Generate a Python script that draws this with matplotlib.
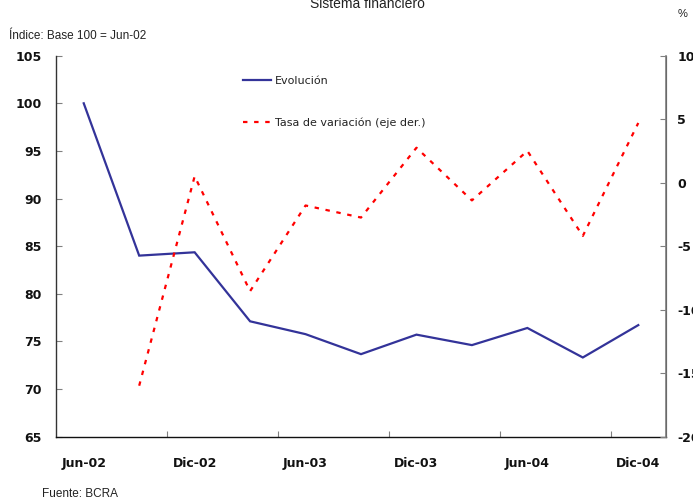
import matplotlib
matplotlib.use("Agg")
import matplotlib.pyplot as plt
import numpy as np

plt.rcParams["axes.unicode_minus"] = False

# Quarterly series, Jun-02 .. Dec-04
quarters = ["Jun-02", "Sep-02", "Dic-02", "Mar-03", "Jun-03", "Sep-03",
            "Dic-03", "Mar-04", "Jun-04", "Sep-04", "Dic-04"]
evolucion = [100.0, 84.0, 84.35, 77.1, 75.75, 73.65, 75.7, 74.6, 76.4, 73.3, 76.7]
tasa_variacion = [np.nan, -16.0, 0.5, -8.55, -1.8, -2.75, 2.75, -1.4, 2.5, -4.2, 4.7]

left_ticks = [65, 70, 75, 80, 85, 90, 95, 100, 105]
right_ticks = [-20, -15, -10, -5, 0, 5, 10]

BLUE = "#333399"
RED = "#ff0000"
AXIS_GRAY = "#808080"
TEXT = "#222222"
NOTE_FONT = ["Liberation Sans", "DejaVu Sans"]

fig = plt.figure(figsize=(6.93, 5.04), dpi=100)
ax = fig.add_axes([56 / 693, 1 - 436.5 / 504, 610 / 693, 380.8 / 504])
ax2 = ax.twinx()

x = np.arange(len(quarters))
l1, = ax.plot(x, evolucion, color=BLUE, lw=1.6, solid_joinstyle="miter",
              label="Evolución", zorder=3)
l2, = ax2.plot(x, tasa_variacion, color=RED, lw=1.6, dashes=(2, 3),
               label="Tasa de variación (eje der.)", zorder=3)

ax.set_xlim(-0.5, len(quarters) - 0.5)
ax.set_ylim(65, 105)
ax2.set_ylim(-20, 10)

ax.set_yticks(left_ticks)
ax2.set_yticks(right_ticks)

# Labels every other quarter, ticks on category boundaries
ax.set_xticks(x[::2])
ax.set_xticklabels(quarters[::2])
ax.set_xticks(np.arange(1.5, len(quarters) - 1, 2), minor=True)
ax.tick_params(axis="x", which="major", length=0, pad=15)
ax.tick_params(axis="x", which="minor", direction="in", length=4,
               color=AXIS_GRAY, width=0.8)

ax.tick_params(axis="y", direction="in", length=4, color=AXIS_GRAY,
               width=0.8, pad=10)
ax2.tick_params(axis="y", direction="in", length=4, color=AXIS_GRAY,
                width=0.8, pad=8)

for lab in ax.get_xticklabels() + ax.get_yticklabels() + ax2.get_yticklabels():
    lab.set_fontweight("bold")
    lab.set_fontsize(9)
    lab.set_color("#111111")

for a in (ax, ax2):
    a.spines["top"].set_visible(False)
ax.spines["left"].set_color("#333333")
ax.spines["bottom"].set_color("#111111")
ax2.spines["right"].set_color(AXIS_GRAY)
ax2.spines["left"].set_visible(False)
ax2.spines["bottom"].set_visible(False)
for s in ("left", "bottom"):
    ax.spines[s].set_linewidth(1.0)
ax2.spines["right"].set_linewidth(1.2)

leg = ax.legend(handles=[l1, l2], loc="upper left",
                bbox_to_anchor=(243 / 693, 1 - 76 / 504),
                bbox_transform=fig.transFigure, frameon=False,
                fontsize=8, handlelength=2.5, handletextpad=0.35,
                labelspacing=2.85, borderpad=0, borderaxespad=0)
for t in leg.get_texts():
    t.set_color(TEXT)

fig.text(367 / 693, 1 - 8 / 504, "Sistema financiero", ha="center",
         va="baseline", fontsize=10, color=TEXT, family=NOTE_FONT)
fig.text(683 / 693, 1 - 14 / 504, "%", ha="center", va="center",
         fontsize=8, color=TEXT, family=NOTE_FONT)
fig.text(9 / 693, 1 - 36 / 504, "Índice: Base 100 = Jun-02", ha="left",
         va="center", fontsize=8.5, color=TEXT, family=NOTE_FONT)
fig.text(42 / 693, 1 - 494 / 504, "Fuente: BCRA", ha="left",
         va="center", fontsize=8.5, color=TEXT, family=NOTE_FONT)

fig.savefig("out.png", dpi=100)
